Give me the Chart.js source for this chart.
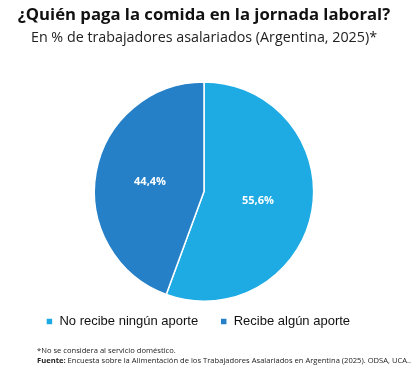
<!DOCTYPE html>
<html>
<head>
<meta charset="utf-8">
<script src="https://cdn.jsdelivr.net/npm/chart.js@4"></script>
<style>
  html, body { margin: 0; padding: 0; background: #fff; width: 420px; height: 374px; overflow: hidden; }
  #wrap { position: absolute; left: 0; top: 0; width: 408px; height: 347px; }
  .note { position: absolute; left: 37px; font-family: "Open Sans", sans-serif; font-size: 7.6px; color: #222; white-space: nowrap; }
</style>
</head>
<body>
<div id="wrap"><canvas id="pie"></canvas></div>
<div class="note" style="top:345px">*No se considera al servicio doméstico.</div>
<div class="note" style="top:355px"><b>Fuente:</b> Encuesta sobre la Alimentación de los Trabajadores Asalariados en Argentina (2025). ODSA, UCA..</div>
<script>
// data
const categories = ["No recibe ningún aporte", "Recibe algún aporte"];
const values = [55.6, 44.4];
const colors = ["#1eabe3", "#2580c8"];

// labels inside slices, Spanish decimal comma
const sliceLabels = {
  id: 'sliceLabels',
  afterDatasetsDraw(chart) {
    const ctx = chart.ctx;
    const meta = chart.getDatasetMeta(0);
    ctx.save();
    ctx.font = 'bold 11px "Open Sans", sans-serif';
    ctx.fillStyle = '#fff';
    ctx.textAlign = 'center';
    ctx.textBaseline = 'middle';
    meta.data.forEach((arc, i) => {
      const p = arc.tooltipPosition();
      ctx.fillText(values[i].toFixed(1).replace('.', ',') + '%', p.x, p.y);
    });
    ctx.restore();
  }
};

// legend padding is wide sideways; pull it up closer to the pie and a bit left
const legendLift = {
  id: 'legendLift',
  afterLayout(chart) {
    const lg = chart.legend;
    if (lg) {
      lg.top -= 9;
      lg.bottom -= 9;
      lg.left -= 6;
      lg.right -= 6;
    }
  }
};

new Chart(document.getElementById('pie'), {
  type: 'pie',
  data: {
    labels: categories,
    datasets: [{
      data: values,
      backgroundColor: colors,
      borderColor: '#fff',
      borderWidth: 1.5
    }]
  },
  options: {
    responsive: true,
    maintainAspectRatio: false,
    animation: false,
    layout: { padding: { top: 0, bottom: 0 } },
    plugins: {
      title: {
        display: true,
        text: '¿Quién paga la comida en la jornada laboral?',
        font: { family: '"Open Sans", sans-serif', size: 16.7, weight: 'bold' },
        color: '#111',
        padding: { top: 5, bottom: 4 }
      },
      subtitle: {
        display: true,
        text: 'En % de trabajadores asalariados (Argentina, 2025)*',
        font: { family: '"Open Sans", sans-serif', size: 14.3 },
        color: '#222',
        padding: { bottom: 35 }
      },
      legend: {
        position: 'bottom',
        labels: {
          font: { family: '"Liberation Sans", Arial, sans-serif', size: 13 },
          color: '#111',
          boxWidth: 7,
          boxHeight: 7,
          padding: 22
        }
      },
      tooltip: { enabled: false }
    }
  },
  plugins: [sliceLabels, legendLift]
});
</script>
</body>
</html>
